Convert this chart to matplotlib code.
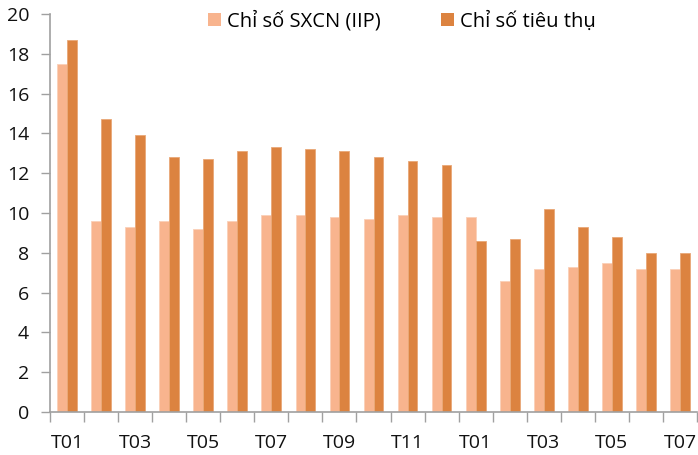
import matplotlib
matplotlib.use("Agg")
import matplotlib.pyplot as plt
import numpy as np
from matplotlib.patches import Patch

months = ["T01", "T02", "T03", "T04", "T05", "T06", "T07", "T08", "T09", "T10",
          "T11", "T12", "T01", "T02", "T03", "T04", "T05", "T06", "T07"]
iip = [17.5, 9.6, 9.3, 9.6, 9.2, 9.6, 9.9, 9.9, 9.8, 9.7, 9.9, 9.8,
       9.8, 6.6, 7.2, 7.3, 7.5, 7.2, 7.2]
consumption = [18.7, 14.7, 13.9, 12.8, 12.7, 13.1, 13.3, 13.2, 13.1, 12.8, 12.6, 12.4,
               8.6, 8.7, 10.2, 9.3, 8.8, 8.0, 8.0]
series_names = ["Chỉ số SXCN (IIP)", "Chỉ số tiêu thụ"]
yticks = [0, 2, 4, 6, 8, 10, 12, 14, 16, 18, 20]

c_light = "#F8B48E"
c_dark = "#DC8340"
gray = "#A0A0A0"

plt.rcParams['font.family'] = ['Open Sans', 'DejaVu Sans']

fig = plt.figure(figsize=(6.98, 4.55), dpi=100)
ax = fig.add_axes([50/698, 43/455, 647/698, 398/455])

x = np.arange(len(months))
w = 0.29
ax.bar(x - w/2, iip, width=w, color=c_light, edgecolor="#FAD0B8", linewidth=0.6)
ax.bar(x + w/2, consumption, width=w, color=c_dark, edgecolor="#E9A877", linewidth=0.6)

ax.set_xlim(-0.5, len(months) - 0.5)
ax.set_ylim(0, 20)
ax.set_yticks(yticks)
ax.set_yticklabels([str(v) for v in yticks])

ax.set_xticks(x[::2])
ax.set_xticklabels(months[::2])
ax.set_xticks(np.arange(-0.5, len(months), 1.0), minor=True)
ax.tick_params(axis='x', which='major', length=0, pad=15.5, labelsize=14, labelcolor="#111111")
ax.tick_params(axis='x', which='minor', length=7, width=1, color=gray, direction='out')
ax.tick_params(axis='y', which='major', length=6.5, width=1, color=gray, direction='out',
               pad=8.5, labelsize=14, labelcolor="#111111")

for s in ['top', 'right']:
    ax.spines[s].set_visible(False)
for s in ['left', 'bottom']:
    ax.spines[s].set_color(gray)
    ax.spines[s].set_linewidth(1.2)

handles = [Patch(facecolor=c_light, edgecolor='none'), Patch(facecolor=c_dark, edgecolor='none')]
fig.legend(handles, series_names, loc='center left', bbox_to_anchor=(208/698, 1 - 21.5/455),
           ncol=2, frameon=False, fontsize=14.5, handlelength=0.65, handleheight=0.65,
           handletextpad=0.3, columnspacing=3.0, borderaxespad=0, borderpad=0)

fig.savefig("out.png", dpi=100)
